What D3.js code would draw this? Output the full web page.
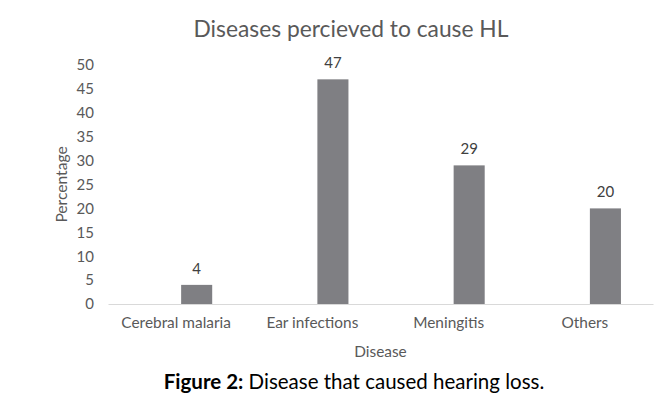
<!DOCTYPE html>
<html><head><meta charset="utf-8">
<script src="https://cdn.jsdelivr.net/npm/d3@7"></script>
<style>
html,body{margin:0;padding:0;background:#fff;}
svg text{font-family:Lato,"Open Sans",sans-serif;}
</style></head>
<body><svg id="c" width="663" height="401"></svg>
<script>
const categories = ["Cerebral malaria", "Ear infections", "Meningitis", "Others"];
const seriesNames = ["(blank)", "Percentage"];
const blankValues = [null, null, null, null];
const percentValues = [4, 47, 29, 20];
const yTicks = [0, 5, 10, 15, 20, 25, 30, 35, 40, 45, 50];
const title = "Diseases percieved to cause HL";
const xTitle = "Disease";
const yTitle = "Percentage";

const svg = d3.select("#c");
const m = {left:108, right:10, top:65, bottom:97};
const W = 663, H = 401;
const x0 = d3.scaleBand().domain(categories).range([m.left, W - m.right]).padding(0);
const x1 = d3.scaleBand().domain(seriesNames).range([0, x0.bandwidth()]).paddingInner(0.244).paddingOuter(0.78);
const y = d3.scaleLinear().domain([0, 50]).range([H - m.bottom, m.top]);
const txt = "#595959";

const ya = svg.append("g").attr("transform", `translate(${m.left},0)`)
  .call(d3.axisLeft(y).tickValues(yTicks).tickSize(0).tickPadding(14));
ya.select(".domain").remove();
ya.selectAll("text").attr("fill", txt).style("font-size", "15px").style("font-family", "Lato");

const xa = svg.append("g").attr("transform", `translate(0,${y(0)})`)
  .call(d3.axisBottom(x0).tickSize(0).tickPadding(13));
xa.select(".domain").attr("stroke", "#d9d9d9").attr("stroke-width", 1);
xa.selectAll("text").attr("fill", txt).style("font-size", "15.4px").style("font-family", "Lato");

const rows = categories.map((c, i) => ({c, blank: blankValues[i], v: percentValues[i]}));
svg.append("g").selectAll("rect").data(rows).join("rect")
  .attr("x", d => x0(d.c) + x1("Percentage"))
  .attr("width", x1.bandwidth())
  .attr("y", d => y(d.v))
  .attr("height", d => y(0) - y(d.v))
  .attr("fill", "#7f7f83");

svg.append("g").selectAll("text").data(rows).join("text")
  .attr("x", d => x0(d.c) + x1("Percentage") + x1.bandwidth()/2)
  .attr("y", d => y(d.v) - 11)
  .attr("text-anchor", "middle")
  .attr("fill", "#404040")
  .style("font-size", "15px")
  .text(d => d.v);

svg.append("text").attr("x", 351).attr("y", 37).attr("text-anchor", "middle")
  .attr("fill", txt).style("font-size", "22.8px").text(title);
svg.append("text").attr("x", (m.left + W - m.right)/2).attr("y", 357).attr("text-anchor", "middle")
  .attr("fill", txt).style("font-size", "15.4px").text(xTitle);
svg.append("text").attr("transform", `translate(67,${(y(0)+y(50))/2}) rotate(-90)`).attr("text-anchor", "middle")
  .attr("fill", txt).style("font-size", "15.6px").text(yTitle);

const cap = svg.append("text").attr("x", 354).attr("y", 389).attr("text-anchor", "middle")
  .attr("fill", "#000").style("font-size", "20.5px");
cap.append("tspan").style("font-weight", "bold").text("Figure 2:");
cap.append("tspan").text(" Disease that caused hearing loss.");
</script></body></html>
